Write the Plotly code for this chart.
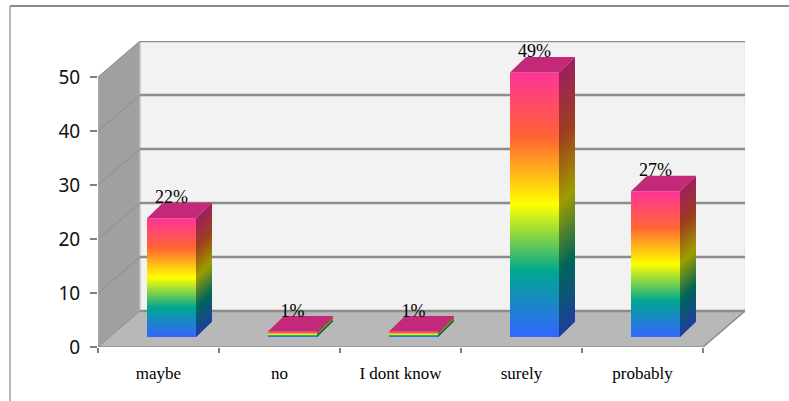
import plotly.graph_objects as go

# Survey answers and their shares, in percent
categories = ["maybe", "no", "I dont know", "surely", "probably"]
values = [22, 1, 1, 49, 27]
y_ticks = [0, 10, 20, 30, 40, 50]

# Pixel scale of the two axes, used to express the pseudo-3D offsets in axis units
PX_X = 121.0
PX_Y = 5.4
WALL_DX = 42 / PX_X
WALL_DY = 36 / PX_Y
BAR_W = 49 / PX_X
BAR_DX = 16 / PX_X
BAR_DY = 15.5 / PX_Y
BASE_DX = 13 / PX_X
BASE_DY = 10 / PX_Y
LABEL_DROP = 5 / PX_Y
X_MAX = 5 + WALL_DX
Y_MAX = 50 + WALL_DY

STOPS = [(0.0, (255, 51, 153)), (0.25, (255, 102, 51)), (0.5, (255, 255, 0)),
         (0.75, (1, 167, 143)), (1.0, (51, 102, 255))]


def ramp(t, k=1.0):
    for (t0, c0), (t1, c1) in zip(STOPS, STOPS[1:]):
        if t <= t1:
            f = (t - t0) / (t1 - t0)
            rgb = [(a + (b - a) * f) * k for a, b in zip(c0, c1)]
            return "rgb(%d,%d,%d)" % tuple(rgb)
    return "rgb(%d,%d,%d)" % tuple(v * k for v in STOPS[-1][1])


def poly(fig, xs, ys, fill):
    fig.add_trace(go.Scatter(x=xs + xs[:1], y=ys + ys[:1], mode="lines", fill="toself",
                             fillcolor=fill, line=dict(width=0), hoverinfo="skip",
                             showlegend=False))


def segment(fig, xs, ys, color, width):
    fig.add_trace(go.Scatter(x=xs, y=ys, mode="lines", line=dict(color=color, width=width),
                             hoverinfo="skip", showlegend=False))


fig = go.Figure()

# Box walls and floor
poly(fig, [WALL_DX, X_MAX, X_MAX, WALL_DX], [WALL_DY, WALL_DY, Y_MAX, Y_MAX], "#f2f2f2")
poly(fig, [0, WALL_DX, WALL_DX, 0], [0, WALL_DY, Y_MAX, 50], "#a0a0a0")
poly(fig, [0, 5, X_MAX, WALL_DX], [0, 0, WALL_DY, WALL_DY], "#b8b8b8")
segment(fig, [X_MAX, X_MAX], [WALL_DY, Y_MAX], "#e4e4e4", 1)
segment(fig, [WALL_DX, WALL_DX], [WALL_DY, Y_MAX], "#c0c0c0", 1.5)

# Gridlines across the back wall and down the side wall
for t in y_ticks:
    segment(fig, [WALL_DX, X_MAX], [t + WALL_DY, t + WALL_DY], "#8c8c8c", 2.4)
    segment(fig, [0, WALL_DX], [t, t + WALL_DY], "#8c8c8c", 1)
segment(fig, [0, 0], [0, 50], "#b0b0b0", 1.2)
segment(fig, [0, 5, X_MAX], [0, 0, WALL_DY], "#8c8c8c", 1.6)

# Bars: a gradient front face, a sheared gradient side face, and a flat cap
for i, v in enumerate(values):
    left = i + 0.5 - BAR_W / 2 + BASE_DX
    right = left + BAR_W
    base = BASE_DY
    top = base + v
    n_strips = max(10, v * 2)
    for s in range(n_strips):
        t0, t1 = s / n_strips, (s + 1) / n_strips
        y0 = top - v * t0
        # each strip runs under the next one so no seams show between them
        y1 = max(base, top - v * t1 - v / n_strips)
        poly(fig, [right, right + BAR_DX, right + BAR_DX, right],
             [y0, y0 + BAR_DY, y1 + BAR_DY, y1], ramp((t0 + t1) / 2, 0.62))
    fig.add_trace(go.Scatter(
        x=[left, right, right, left, left], y=[base, base, top, top, base],
        mode="lines", fill="toself", line=dict(width=0), hoverinfo="skip", showlegend=False,
        fillgradient=dict(type="vertical",
                          colorscale=[[t, "rgb(%d,%d,%d)" % c] for t, c in reversed(
                              [(1 - a, b) for a, b in STOPS])]),
    ))
    poly(fig, [left, right, right + BAR_DX, left + BAR_DX],
         [top, top, top + BAR_DY, top + BAR_DY], "#c42878")

# Percentage labels above each bar
fig.add_trace(go.Scatter(
    x=[i + 0.5 + BASE_DX for i in range(len(values))],
    y=[BASE_DY + v + BAR_DY - LABEL_DROP for v in values],
    mode="text", text=[f"{v}%" for v in values], textposition="top center",
    textfont=dict(family="Liberation Serif", size=18, color="#000000"),
    cliponaxis=False, hoverinfo="skip", showlegend=False,
))

fig.update_layout(
    width=789, height=401, autosize=False,
    margin=dict(l=98, r=44, t=41, b=54),
    paper_bgcolor="white", plot_bgcolor="white",
    showlegend=False,
    xaxis=dict(
        range=[0, X_MAX], showgrid=False, zeroline=False, showline=False,
        tickmode="array", tickvals=[i + 0.5 for i in range(5)], ticktext=categories,
        ticks="outside", ticklen=11, tickcolor="rgba(0,0,0,0)",
        tickfont=dict(family="Liberation Serif", size=17, color="#000000"),
        minor=dict(tickmode="array", tickvals=list(range(6)), ticks="outside",
                   ticklen=5, tickwidth=1.5, tickcolor="#808080"),
    ),
    yaxis=dict(
        range=[0, Y_MAX], showgrid=False, zeroline=False, showline=False,
        tickmode="array", tickvals=y_ticks, ticks="outside", ticklen=7, tickwidth=1.5,
        tickcolor="#808080", ticklabelstandoff=6,
        tickfont=dict(family="Noto Sans", size=19, color="#111111"),
    ),
    # Frame: only its top and left edges fall inside the page
    shapes=[
        dict(type="line", xref="paper", yref="paper", x0=-88 / 647, x1=691 / 647,
             y0=1 + 35 / 306, y1=1 + 35 / 306, line=dict(color="#8a8a8a", width=2)),
        dict(type="line", xref="paper", yref="paper", x0=-88 / 647, x1=-88 / 647,
             y0=-54 / 306, y1=1 + 35 / 306, line=dict(color="#a0a0a0", width=1.5)),
    ],
)

fig.write_html("out.html")
